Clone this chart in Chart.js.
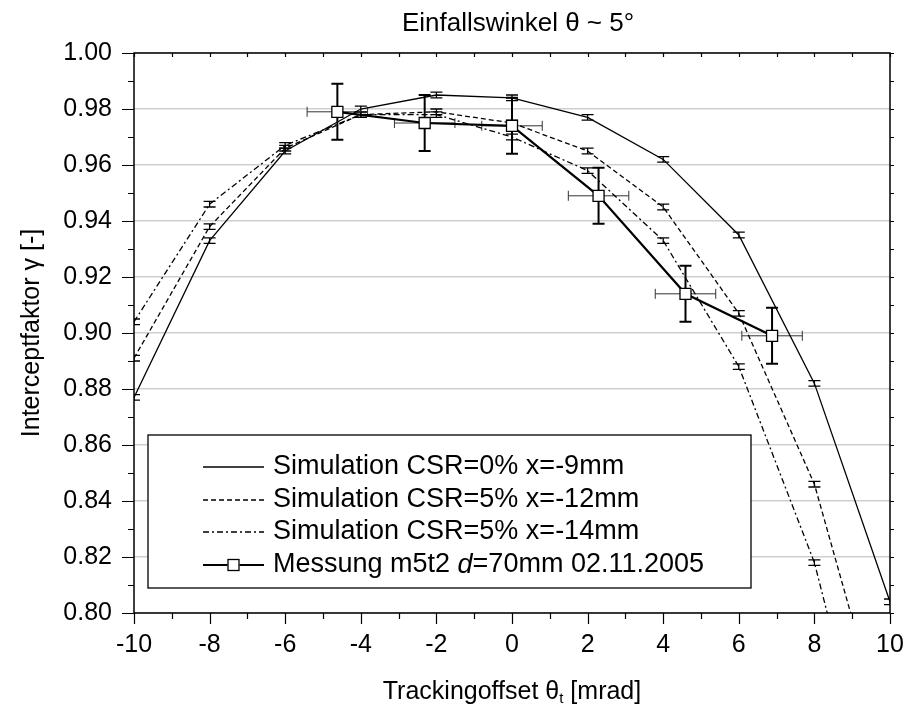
<!DOCTYPE html>
<html>
<head>
<meta charset="utf-8">
<script src="https://cdn.jsdelivr.net/npm/chart.js@4.4.1/dist/chart.umd.min.js"></script>
<style>
  html, body { margin: 0; padding: 0; background: #fff; }
  #wrap { width: 909px; height: 708px; }
</style>
</head>
<body>
<div id="wrap"><canvas id="chart" width="909" height="708"></canvas></div>
<script>
// Simulation runs: tracking offset [mrad] and intercept factor
const simOffsets = [-10, -8, -6, -4, -2, 0, 2, 4, 6, 8, 10];
const simCsr0x9 = [0.877, 0.933, 0.965, 0.980, 0.985, 0.984, 0.977, 0.962, 0.935, 0.882, 0.804];
const simCsr5x12 = [0.891, 0.938, 0.966, 0.978, 0.979, 0.975, 0.965, 0.945, 0.907, 0.846, 0.750];
const simCsr5x14 = [0.904, 0.946, 0.967, 0.978, 0.978, 0.970, 0.958, 0.933, 0.888, 0.818, 0.712];
const simErr = [0.001, 0.001, 0.001, 0.001, 0.001, 0.001, 0.001, 0.001, 0.001, 0.001, 0.001];

// Measurement m5t2 with errors in both directions
const measOffsets = [-4.62, -2.31, 0.0, 2.29, 4.59, 6.88];
const measGamma = [0.979, 0.975, 0.974, 0.949, 0.914, 0.899];
const measOffsetErr = [0.8, 0.8, 0.8, 0.8, 0.8, 0.8];
const measGammaErr = [0.010, 0.010, 0.010, 0.010, 0.010, 0.010];

const seriesLabels = [
  'Simulation CSR=0% x=-9mm',
  'Simulation CSR=5% x=-12mm',
  'Simulation CSR=5% x=-14mm',
  'Messung m5t2 d=70mm 02.11.2005'
];

const xMin = -10, xMax = 10, xStep = 2;
const yMin = 0.80, yMax = 1.00, yStep = 0.02;

const FONT = '"Liberation Sans", Arial, sans-serif';
const toPoints = (xs, ys) => xs.map((x, i) => ({ x: x, y: ys[i] }));

// dataset index -> error arrays and how to draw them
const errorSets = {
  0: { y: simErr, cap: 6, width: 1.3 },
  1: { y: simErr, cap: 6, width: 1.3 },
  2: { y: simErr, cap: 6, width: 1.3 },
  3: { y: measGammaErr, x: measOffsetErr, cap: 6, width: 2, xCap: 5, xWidth: 1, xColor: '#333' }
};

const dashes = [[], [5, 3], [6, 3, 2, 3]];

const errorBars = {
  id: 'errorBars',
  beforeDatasetsDraw(chart) {
    const { ctx, chartArea: a, scales: { x, y } } = chart;
    ctx.save();
    ctx.beginPath();
    ctx.rect(a.left, a.top, a.right - a.left, a.bottom - a.top);
    ctx.clip();
    ctx.setLineDash([]);
    chart.data.datasets.forEach((ds, di) => {
      const e = errorSets[di];
      if (!e) return;
      ds.data.forEach((p, i) => {
        const px = x.getPixelForValue(p.x), py = y.getPixelForValue(p.y);
        if (e.x) {
          const l = x.getPixelForValue(p.x - e.x[i]), r = x.getPixelForValue(p.x + e.x[i]);
          ctx.strokeStyle = e.xColor;
          ctx.lineWidth = e.xWidth;
          ctx.beginPath();
          ctx.moveTo(l, py); ctx.lineTo(r, py);
          ctx.moveTo(l, py - e.xCap); ctx.lineTo(l, py + e.xCap);
          ctx.moveTo(r, py - e.xCap); ctx.lineTo(r, py + e.xCap);
          ctx.stroke();
        }
        const t = y.getPixelForValue(p.y + e.y[i]), b = y.getPixelForValue(p.y - e.y[i]);
        ctx.strokeStyle = '#000';
        ctx.lineWidth = e.width;
        ctx.beginPath();
        ctx.moveTo(px, t); ctx.lineTo(px, b);
        ctx.moveTo(px - e.cap, t); ctx.lineTo(px + e.cap, t);
        ctx.moveTo(px - e.cap, b); ctx.lineTo(px + e.cap, b);
        ctx.stroke();
      });
    });
    ctx.restore();
  }
};

// box around the plot plus major/minor tick marks
const frame = {
  id: 'frame',
  afterDatasetsDraw(chart) {
    const { ctx, chartArea: a, scales: { x, y } } = chart;
    ctx.save();
    ctx.setLineDash([]);
    ctx.strokeStyle = '#000';
    ctx.lineWidth = 1.5;
    ctx.strokeRect(a.left, a.top, a.right - a.left, a.bottom - a.top);
    ctx.beginPath();
    for (let v = xMin; v <= xMax; v += 1) {
      const px = Math.round(x.getPixelForValue(v)) + 0.5;
      const major = v % 2 === 0;
      ctx.moveTo(px, a.bottom); ctx.lineTo(px, a.bottom + (major ? 11 : 6));
      ctx.moveTo(px, a.top); ctx.lineTo(px, a.top + 4);
    }
    for (let k = 0; k <= 20; k++) {
      const v = yMin + k * 0.01;
      const py = Math.round(y.getPixelForValue(v)) + 0.5;
      const major = k % 2 === 0;
      ctx.moveTo(a.left, py); ctx.lineTo(a.left - (major ? 12 : 6), py);
      ctx.moveTo(a.right, py); ctx.lineTo(a.right + 4, py);
    }
    ctx.lineWidth = 1.2;
    ctx.stroke();
    ctx.restore();
  }
};

// legend box inside the plot, axis titles and heading
const annotations = {
  id: 'annotations',
  afterDraw(chart) {
    const { ctx } = chart;
    ctx.save();
    ctx.setLineDash([]);

    // legend
    const box = { l: 148, t: 435, r: 751, b: 588 };
    ctx.fillStyle = '#fff';
    ctx.fillRect(box.l, box.t, box.r - box.l, box.b - box.t);
    ctx.strokeStyle = '#000';
    ctx.lineWidth = 1.3;
    ctx.strokeRect(box.l, box.t, box.r - box.l, box.b - box.t);

    const rows = [467, 500, 532, 565];
    const sx0 = 203, sx1 = 264, tx = 273;
    const lf = '27px ' + FONT;
    ctx.font = lf;
    ctx.textBaseline = 'middle';
    ctx.textAlign = 'left';
    ctx.fillStyle = '#000';
    rows.forEach((ry, i) => {
      if (i < 3) {
        ctx.setLineDash(dashes[i]);
        ctx.lineWidth = 1.3;
        ctx.beginPath(); ctx.moveTo(sx0, ry); ctx.lineTo(sx1, ry); ctx.stroke();
        ctx.setLineDash([]);
        ctx.fillText(seriesLabels[i], tx, ry);
      } else {
        const mid = (sx0 + sx1) / 2;
        ctx.lineWidth = 2.2;
        ctx.beginPath();
        ctx.moveTo(sx0, ry); ctx.lineTo(mid - 6, ry);
        ctx.moveTo(mid + 6, ry); ctx.lineTo(sx1, ry);
        ctx.stroke();
        ctx.lineWidth = 1.3;
        ctx.fillStyle = '#fff';
        ctx.fillRect(mid - 5.5, ry - 5.5, 11, 11);
        ctx.strokeRect(mid - 5.5, ry - 5.5, 11, 11);
        ctx.fillStyle = '#000';
        // "d" set in italics
        let cx = tx;
        const parts = [['Messung m5t2 ', ''], ['d', 'italic '], ['=70mm 02.11.2005', '']];
        parts.forEach(([s, st]) => {
          ctx.font = st + lf;
          ctx.fillText(s, cx, ry);
          cx += ctx.measureText(s).width;
        });
        ctx.font = lf;
      }
    });

    // heading
    ctx.font = '26px ' + FONT;
    ctx.textAlign = 'center';
    ctx.fillText('Einfallswinkel \u03B8 ~ 5\u00B0', 518, 24);

    // x axis title with subscript t
    const a = chart.chartArea;
    const cxm = (a.left + a.right) / 2;
    const p1 = 'Trackingoffset \u03B8', sub = 't', p2 = ' [mrad]';
    ctx.font = '25px ' + FONT;
    const w1 = ctx.measureText(p1).width, w3 = ctx.measureText(p2).width;
    ctx.font = '15px ' + FONT;
    const w2 = ctx.measureText(sub).width;
    let xx = cxm - (w1 + w2 + w3) / 2;
    ctx.textAlign = 'left';
    ctx.font = '25px ' + FONT;
    ctx.fillText(p1, xx, 692); xx += w1;
    ctx.font = '15px ' + FONT;
    ctx.fillText(sub, xx, 699); xx += w2;
    ctx.font = '25px ' + FONT;
    ctx.fillText(p2, xx, 692);

    // y axis title
    ctx.translate(32, (a.top + a.bottom) / 2);
    ctx.rotate(-Math.PI / 2);
    ctx.textAlign = 'center';
    ctx.fillText('Interceptfaktor \u03B3 [-]', 0, 0);
    ctx.restore();
  }
};

const lineSet = (label, ys, i) => ({
  label: label,
  data: toPoints(simOffsets, ys),
  showLine: true,
  borderColor: '#000',
  borderWidth: 1.3,
  borderDash: dashes[i],
  pointRadius: 0,
  fill: false
});

new Chart(document.getElementById('chart'), {
  type: 'scatter',
  data: {
    datasets: [
      lineSet(seriesLabels[0], simCsr0x9, 0),
      lineSet(seriesLabels[1], simCsr5x12, 1),
      lineSet(seriesLabels[2], simCsr5x14, 2),
      {
        label: seriesLabels[3],
        data: toPoints(measOffsets, measGamma),
        showLine: true,
        borderColor: '#000',
        borderWidth: 2.2,
        pointStyle: 'rect',
        pointRadius: 7.8,
        pointBorderWidth: 1.3,
        pointBackgroundColor: '#fff',
        pointBorderColor: '#000',
        order: -1
      }
    ]
  },
  options: {
    responsive: false,
    animation: false,
    layout: { padding: { top: 53, right: 19, left: 0, bottom: 0 } },
    plugins: { legend: { display: false }, title: { display: false }, tooltip: { enabled: false } },
    scales: {
      x: {
        type: 'linear',
        min: xMin, max: xMax,
        // fixed band under the plot, no extra room for the end labels
        afterFit: s => { s.height = 95; s.paddingLeft = 0; s.paddingRight = 0; },
        border: { display: false },
        grid: { display: false, drawTicks: false },
        ticks: {
          stepSize: xStep,
          padding: 17,
          color: '#000',
          font: { family: FONT, size: 25 },
          maxRotation: 0
        }
      },
      y: {
        type: 'linear',
        min: yMin, max: yMax,
        afterFit: s => { s.width = 134; },
        border: { display: false },
        grid: { color: '#cfcfcf', lineWidth: 1.5, drawTicks: false },
        ticks: {
          stepSize: yStep,
          padding: 22,
          color: '#000',
          font: { family: FONT, size: 25 },
          callback: v => v.toFixed(2)
        }
      }
    }
  },
  plugins: [errorBars, frame, annotations]
});
</script>
</body>
</html>
